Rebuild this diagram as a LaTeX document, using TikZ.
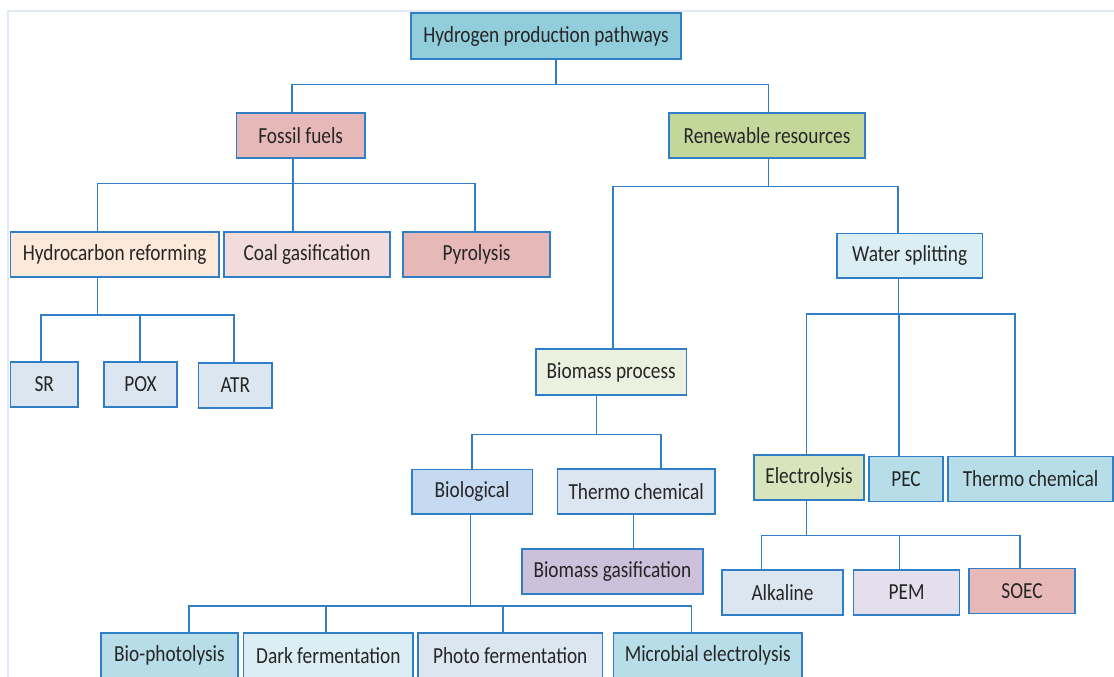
\documentclass[tikz,border=0pt]{standalone}
\usepackage{fontspec}
\newfontfamily\boxfont{Carlito}[FakeStretch=0.84]
\definecolor{linec}{HTML}{2F7EC6}
\definecolor{framec}{HTML}{E1EAF4}
\definecolor{cTop}{HTML}{92CDDC}
\definecolor{cRed}{HTML}{E6B8B7}
\definecolor{cGreen}{HTML}{C4D79B}
\definecolor{cPeach}{HTML}{FDE9D9}
\definecolor{cRose}{HTML}{F2DCDB}
\definecolor{cIce}{HTML}{DAEEF3}
\definecolor{cSteel}{HTML}{DCE6F1}
\definecolor{cOlive}{HTML}{EBF1DE}
\definecolor{cBlue}{HTML}{C5D9F1}
\definecolor{cLilac}{HTML}{CCC0DA}
\definecolor{cAqua}{HTML}{B7DEE8}
\definecolor{cLime}{HTML}{D8E4BC}
\definecolor{cMauve}{HTML}{E4DFEC}
\tikzset{
  box/.style={draw=linec, line width=1.5pt, inner sep=0pt, minimum height=45pt,
    text=black!85, font=\boxfont\fontsize{23}{26}\selectfont},
  link/.style={draw=linec, line width=1.3pt}
}
\begin{document}
\begin{tikzpicture}[x=1pt, y=1pt]
    \clip (0,0) rectangle (1114,-677);
    \fill[white] (0,0) rectangle (1114,-677);
    \draw[framec, line width=1.2pt] (8,-677) -- (8,-11) -- (1114,-11);

    \node[box, fill=cTop, minimum width=270pt, minimum height=46pt] (top) at (546,-36) {Hydrogen production pathways};
    \node[box, fill=cRed, minimum width=128.6pt] (fossil) at (300.7,-135.3) {Fossil fuels};
    \node[box, fill=cGreen, minimum width=196pt] (renew) at (767,-135.3) {Renewable resources};
    \node[box, fill=cPeach, minimum width=208.6pt] (hydro) at (114.7,-254.5) {Hydrocarbon reforming};
    \node[box, fill=cRose, minimum width=166pt] (coal) at (307,-254.5) {Coal gasification};
    \node[box, fill=cRed, minimum width=147pt] (pyro) at (476.5,-254.5) {Pyrolysis};
    \node[box, fill=cIce, minimum width=145.5pt, minimum height=44.3pt] (water) at (909.7,-255.8) {Water splitting};
    \node[box, fill=cSteel, minimum width=67.6pt] (sr) at (44.2,-384.5) {SR};
    \node[box, fill=cSteel, minimum width=73pt] (pox) at (140.5,-384.5) {POX};
    \node[box, fill=cSteel, minimum width=73.4pt] (atr) at (235.3,-385.5) {ATR};
    \node[box, fill=cOlive, minimum width=150.4pt, minimum height=46pt] (bproc) at (611.2,-372) {Biomass process};
    \node[box, fill=cBlue, minimum width=120.5pt, minimum height=44.3pt] (bio) at (472.2,-491.8) {Biological};
    \node[box, fill=cSteel, minimum width=157.5pt] (thermoA) at (636.2,-491.3) {Thermo chemical};
    \node[box, fill=cLilac, minimum width=181.2pt] (bgas) at (612.4,-571.3) {Biomass gasification};
    \node[box, fill=cAqua, minimum width=137pt] (bphoto) at (169.5,-655.5) {Bio-photolysis};
    \node[box, fill=cIce, minimum width=169.4pt] (dark) at (328.3,-655.5) {Dark fermentation};
    \node[box, fill=cSteel, minimum width=184.5pt] (photo) at (510.2,-655.5) {Photo fermentation};
    \node[box, fill=cAqua, minimum width=188.2pt] (microb) at (707.7,-655.5) {Microbial electrolysis};
    \node[box, fill=cLime, minimum width=110pt] (electro) at (809,-477.5) {Electrolysis};
    \node[box, fill=cAqua, minimum width=74pt] (pec) at (906,-478.8) {PEC};
    \node[box, fill=cAqua, minimum width=165pt] (thermoB) at (1030.5,-478.8) {Thermo chemical};
    \node[box, fill=cSteel, minimum width=121pt] (alk) at (782.5,-592.5) {Alkaline};
    \node[box, fill=cMauve, minimum width=106pt] (pem) at (906.6,-592.5) {PEM};
    \node[box, fill=cRed, minimum width=106pt] (soec) at (1022,-591.2) {SOEC};

    \draw[link] ([xshift=10pt]top.south) -- ++(0,-25) -| ([xshift=-8.7pt]fossil.north);
    \draw[link] ([xshift=10pt]top.south) -- ++(0,-25) -| ([xshift=1.6pt]renew.north);
    \draw[link] ([xshift=-7.7pt]fossil.south) -- ++(0,-25) -| ([xshift=-17.2pt]hydro.north);
    \draw[link] ([xshift=-7.7pt]fossil.south) -- ++(0,-25) -| ([xshift=-14pt]coal.north);
    \draw[link] ([xshift=-7.7pt]fossil.south) -- ++(0,-25) -| ([xshift=-1.5pt]pyro.north);
    \draw[link] ([xshift=1.6pt]renew.south) -- ++(0,-28) -| ([xshift=1.8pt]bproc.north);
    \draw[link] ([xshift=1.6pt]renew.south) -- ++(0,-28) -| ([xshift=-11.7pt]water.north);
    \draw[link] ([xshift=-17.2pt]hydro.south) -- ++(0,-37.3) -| ([xshift=-3.2pt]sr.north);
    \draw[link] ([xshift=-17.2pt]hydro.south) -- ++(0,-37.3) -| ([xshift=-0.5pt]pox.north);
    \draw[link] ([xshift=-17.2pt]hydro.south) -- ++(0,-37.3) -| ([xshift=-1.3pt]atr.north);
    \draw[link] ([xshift=-11.1pt]water.south) -- ++(0,-35.3) -| ([xshift=-2.6pt]electro.north);
    \draw[link] ([xshift=-11.1pt]water.south) -- ++(0,-35.3) -| ([xshift=-7pt]pec.north);
    \draw[link] ([xshift=-11.1pt]water.south) -- ++(0,-35.3) -| ([xshift=-15.5pt]thermoB.north);
    \draw[link] ([xshift=-14.8pt]bproc.south) -- ++(0,-39) -| ([xshift=-0.2pt]bio.north);
    \draw[link] ([xshift=-14.8pt]bproc.south) -- ++(0,-39) -| ([xshift=24.8pt]thermoA.north);
    \draw[link] ([xshift=-2.6pt]thermoA.south) -- ([xshift=-2.6pt]thermoA.south |- bgas.north);
    \draw[link] ([xshift=-1.5pt]bio.south) -- ++(0,-91.3) -| ([xshift=19.5pt]bphoto.north);
    \draw[link] ([xshift=-1.5pt]bio.south) -- ++(0,-91.3) -| ([xshift=-2.3pt]dark.north);
    \draw[link] ([xshift=-1.5pt]bio.south) -- ++(0,-91.3) -| ([xshift=-7.2pt]photo.north);
    \draw[link] ([xshift=-1.5pt]bio.south) -- ++(0,-91.3) -| ([xshift=-15.9pt]microb.north);
    \draw[link] ([xshift=-2.6pt]electro.south) -- ++(0,-35) -| ([xshift=-21.1pt]alk.north);
    \draw[link] ([xshift=-2.6pt]electro.south) -- ++(0,-35) -| ([xshift=-7pt]pem.north);
    \draw[link] ([xshift=-2.6pt]electro.south) -- ++(0,-35) -| ([xshift=-2pt]soec.north);
\end{tikzpicture}
\end{document}
